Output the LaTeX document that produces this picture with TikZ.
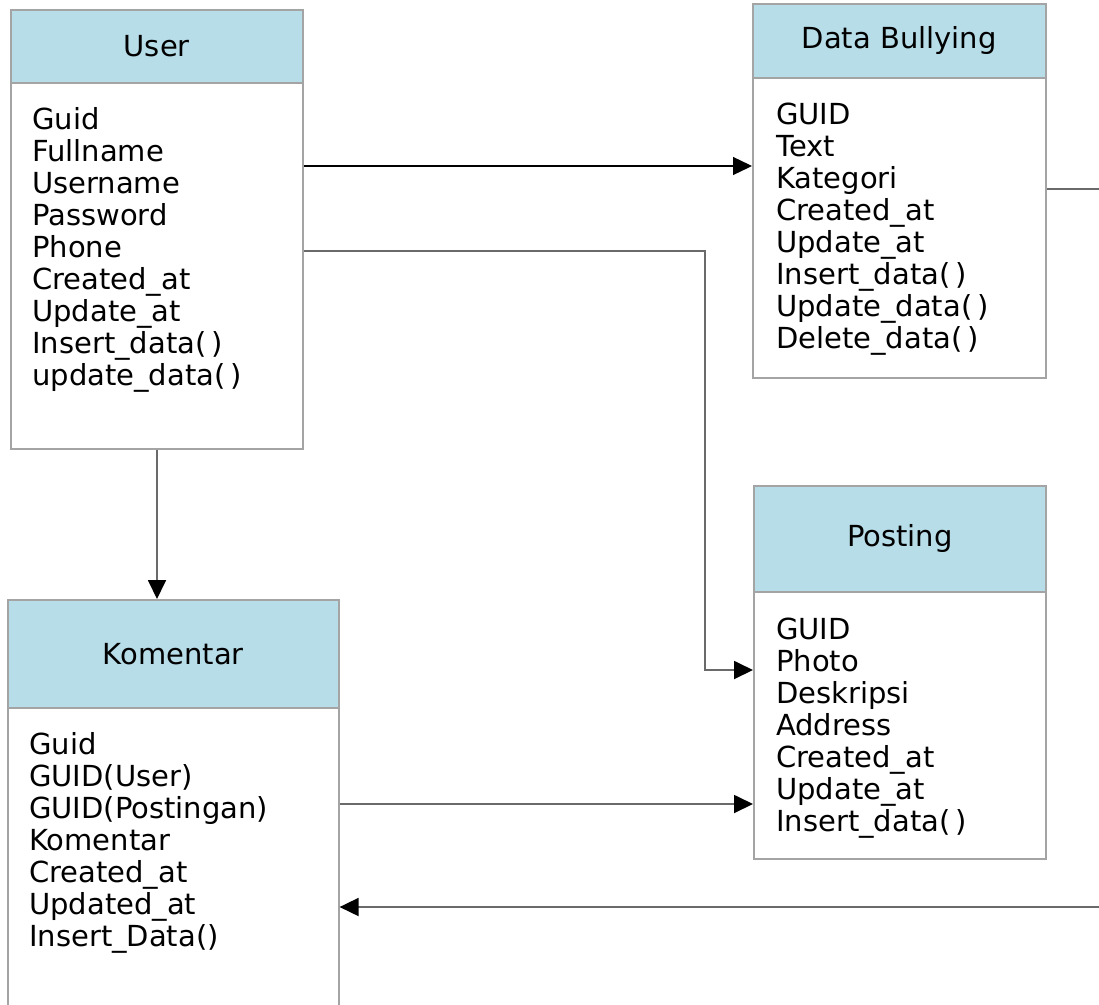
\documentclass[tikz,border=0pt]{standalone}
\usepackage{fontspec}
\setmainfont{DejaVu Sans}
\usetikzlibrary{arrows.meta}
\definecolor{hdrblue}{HTML}{B7DDE8}
\definecolor{boxline}{HTML}{A4A4A4}
\definecolor{wire}{HTML}{6A6A6A}
\begin{document}
\begin{tikzpicture}[x=1pt,y=-1pt,
  hdr/.style={draw=boxline, line width=1.6pt, fill=hdrblue, inner sep=0pt,
    anchor=north west, font=\fontsize{29}{32}\selectfont},
  bodybox/.style={draw=boxline, line width=1.6pt, fill=white, inner sep=0pt,
    anchor=north west},
  attr/.style={anchor=base west, inner sep=0pt, font=\fontsize{29}{32}\selectfont},
  tip/.style={-{Triangle[length=19pt,width=18pt,black]}},
  link/.style={tip, draw=wire, line width=1.8pt},
  darklink/.style={tip, draw=black, line width=1.3pt}]
\useasboundingbox (0,0) rectangle (1099,1004);
\clip (0,0) rectangle (1099,1004);

% User
\node[hdr, minimum width=292pt, minimum height=73pt] (userhead) at (10,9) {User};
\node[bodybox, minimum width=292pt, minimum height=366pt] (userbody) at (10,82) {};
\foreach \t [count=\i] in {Guid, Fullname, Username, Password, Phone, Created\_at,
  Update\_at, Insert\_data(\,), update\_data(\,)}
  \node[attr] (user-\i) at (32,{129+32*(\i-1)}) {\t};

% Data Bullying
\node[hdr, minimum width=293pt, minimum height=74pt] (bullyhead) at (752,3) {Data Bullying};
\node[bodybox, minimum width=293pt, minimum height=300pt] (bullybody) at (752,77) {};
\foreach \t [count=\i] in {GUID, Text, Kategori, Created\_at, Update\_at,
  Insert\_data(\,), Update\_data(\,), Delete\_data(\,)}
  \node[attr] (bully-\i) at (776,{124+32*(\i-1)}) {\t};

% Posting
\node[hdr, minimum width=292pt, minimum height=106pt] (posthead) at (753,485) {Posting};
\node[bodybox, minimum width=292pt, minimum height=267pt] (postbody) at (753,591) {};
\foreach \t [count=\i] in {GUID, Photo, Deskripsi, Address, Created\_at, Update\_at,
  Insert\_data(\,)}
  \node[attr] (post-\i) at (776,{639+32*(\i-1)}) {\t};

% Komentar
\node[hdr, minimum width=331pt, minimum height=108pt] (komhead) at (7,599) {Komentar};
\node[bodybox, minimum width=331pt, minimum height=320pt] (kombody) at (7,707) {};
\foreach \t [count=\i] in {Guid, GUID(User), GUID(Postingan), Komentar, Created\_at,
  Updated\_at, Insert\_Data()}
  \node[attr] (kom-\i) at (29,{754+32*(\i-1)}) {\t};

% Relations
\draw[darklink] (userbody.east |- 0,166) -- (bullybody.west |- 0,166);
\draw[link] (userbody.east |- 0,251) -| (705,670) -- (postbody.west |- 0,670);
\draw[link] (userbody.south -| 157,0) -- (komhead.north -| 157,0);
\draw[link] (kombody.east |- 0,804) -- (postbody.west |- 0,804);
\coordinate (outer) at (1115,0);
\draw[link] (bullybody.east |- 0,189) -- (outer |- 0,189) -- (outer |- 0,907)
  -- (kombody.east |- 0,907);
\end{tikzpicture}
\end{document}
